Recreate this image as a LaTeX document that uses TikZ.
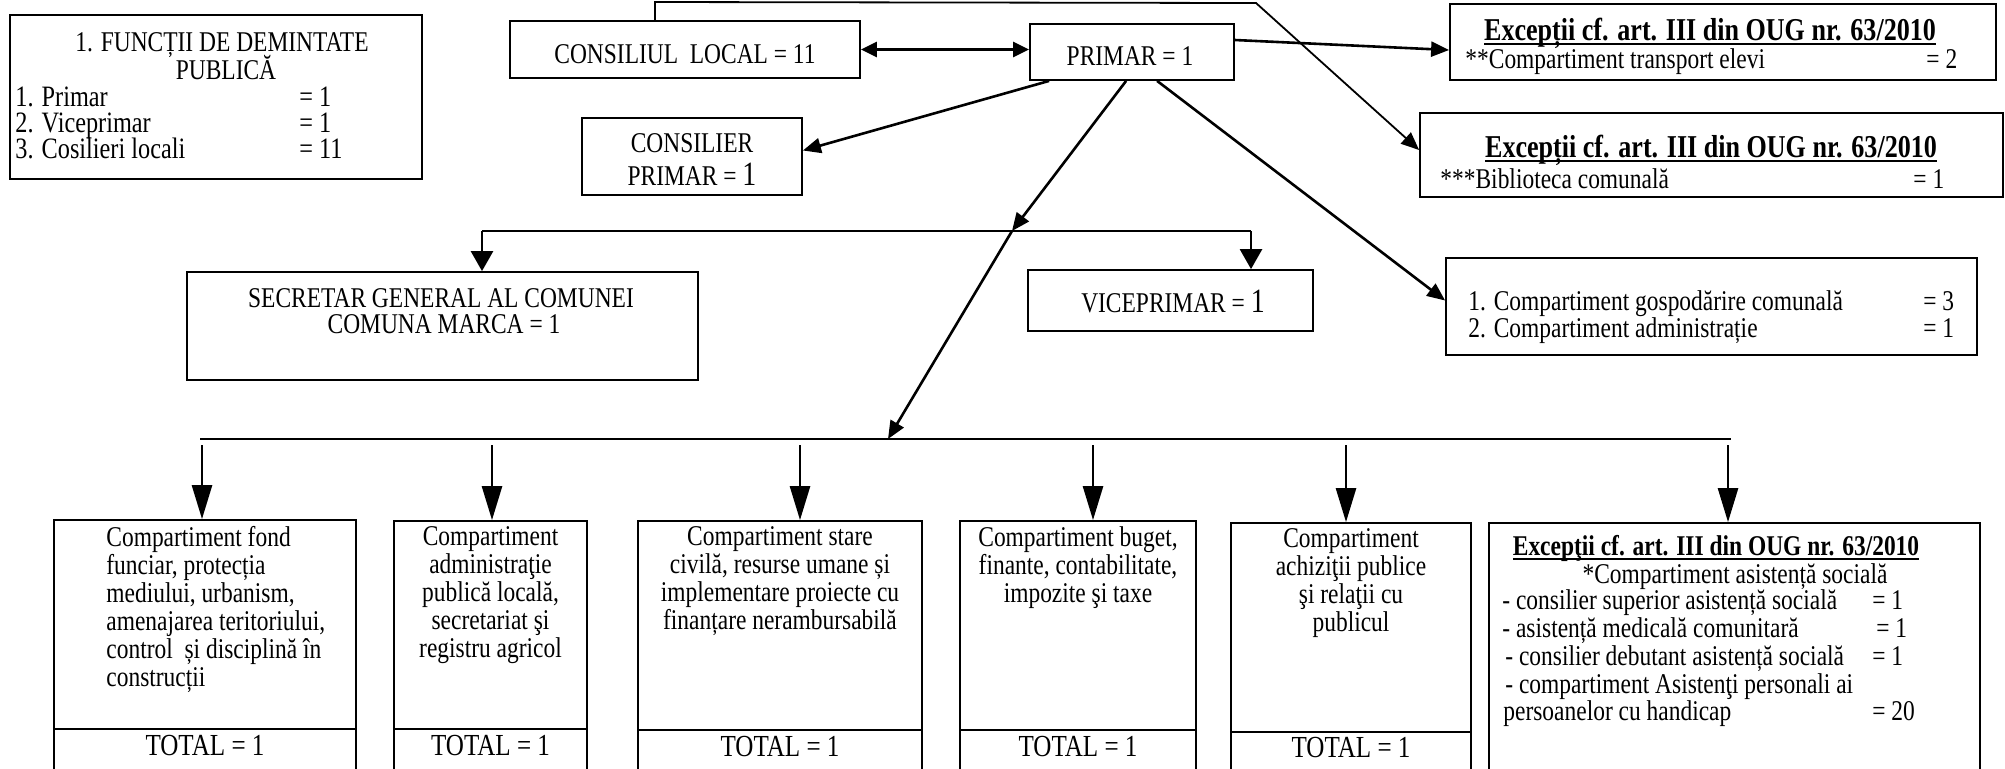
\documentclass[tikz,border=0pt]{standalone}
\usepackage{fontspec}
\setmainfont{Liberation Serif}[FakeStretch=0.82]
\usetikzlibrary{arrows.meta,calc,fit}
\newcommand\myul[1]{\setbox0\hbox{#1}\rlap{\rule[-2.5pt]{\wd0}{0.9pt}}\box0}
\begin{document}
\begin{tikzpicture}[x=0.5pt,y=-0.5pt,
  bx/.style={draw, line width=0.9pt, inner sep=0pt},
  txt/.style={inner sep=0pt, font=\fontsize{14.3}{14}\selectfont},
  row/.style={inner sep=0pt, anchor=base west, font=\fontsize{14.8}{14}\selectfont},
  ttl/.style={inner sep=0pt, font=\fontsize{15.9}{16}\selectfont\bfseries},
  tot/.style={inner sep=0pt, anchor=base, font=\fontsize{15.3}{15}\selectfont},
  conn/.style={line width=1.3pt},
  thin/.style={line width=0.9pt},
  sarr/.style={conn, -{Triangle[length=9pt,width=7.5pt]}},
  marr/.style={conn, -{Triangle[length=10pt,width=11pt]}},
  barr/.style={conn, -{Triangle[length=17pt,width=10pt]}},
  darr/.style={conn, {Triangle[length=8pt,width=7.5pt]}-{Triangle[length=8pt,width=7.5pt]}}
]
\path[use as bounding box, fill=white] (0,0) rectangle (2005,768);
\clip (0,0) rectangle (2005,768);

% ---------- boxes ----------
\node[bx, fit={(10,15) (422,179)}] (fa) {};
\node[bx, fit={(510,21) (860,78)}] (cl) {};
\node[bx, fit={(1030,24) (1234,80)}] (pr) {};
\node[bx, fit={(1450,4) (1996,80)}] (ex1) {};
\node[bx, fit={(1420,113) (2003,197)}] (ex2) {};
\node[bx, fit={(582,118) (802,195)}] (cp) {};
\node[bx, fit={(187,272) (698,380)}] (sec) {};
\node[bx, fit={(1028,270) (1313,331)}] (vp) {};
\node[bx, fit={(1446,258) (1977,355)}] (g) {};
\node[bx, fit={(54,520) (356,800)}] (b1) {};
\node[bx, fit={(394,521) (587,800)}] (b2) {};
\node[bx, fit={(638,521) (922,800)}] (b3) {};
\node[bx, fit={(960,521) (1196,800)}] (b4) {};
\node[bx, fit={(1231,523) (1471,800)}] (b5) {};
\node[bx, fit={(1489,523) (1980,800)}] (b6) {};

% dividers above TOTAL
\draw[thin] (b1.west |- 0,729) -- (b1.east |- 0,729);
\draw[thin] (b2.west |- 0,729) -- (b2.east |- 0,729);
\draw[thin] (b3.west |- 0,730) -- (b3.east |- 0,730);
\draw[thin] (b4.west |- 0,730) -- (b4.east |- 0,730);
\draw[thin] (b5.west |- 0,732) -- (b5.east |- 0,732);

% ---------- texts ----------
\node[txt, anchor=base] (fa1) at (222,51) {1. FUNCȚII DE DEMINTATE};
\node[txt, anchor=base] (fa2) at (226,79) {PUBLICĂ};
\node[row] (fr1) at (15,106) {1. Primar};
\node[row] (fr2) at (15,132) {2. Viceprimar};
\node[row] (fr3) at (15,158) {3. Cosilieri locali};
\node[row] (fv1) at (299,106) {= 1};
\node[row] (fv2) at (299,132) {= 1};
\node[row] (fv3) at (299,158) {= 11};

\node[txt, anchor=base] (clt) at (685,63) {CONSILIUL\ \ LOCAL = 11};
\node[txt, anchor=base] (prt) at (1130,65) {PRIMAR = 1};

\node[ttl, anchor=base] (ex1t) at (1710,40) {\myul{Excepții cf. art. III din OUG nr. 63/2010}};
\node[txt, anchor=base west] (ex1a) at (1465,68) {**Compartiment transport elevi};
\node[txt, anchor=base west] (ex1v) at (1926,68) {= 2};

\node[ttl, anchor=base] (ex2t) at (1711,157) {\myul{Excepții cf. art. III din OUG nr. 63/2010}};
\node[txt, anchor=base west] (ex2a) at (1440,188) {***Biblioteca comunală};
\node[txt, anchor=base west] (ex2v) at (1913,188) {= 1};

\node[txt, anchor=base] (cp1) at (692,152) {CONSILIER};
\node[txt, anchor=base] (cp2) at (692,185) {PRIMAR = {\fontsize{17}{17}\selectfont 1}};

\node[txt, anchor=base] (sec1) at (441,307) {SECRETAR GENERAL AL COMUNEI};
\node[txt, anchor=base] (sec2) at (444,333) {COMUNA MARCA = 1};

\node[txt, anchor=base] (vpt) at (1173,312) {VICEPRIMAR = {\fontsize{17}{17}\selectfont 1}};

\node[txt, anchor=base west] (g1) at (1468,310) {1. Compartiment gospodărire comunală};
\node[txt, anchor=base west] (g1v) at (1923,310) {= 3};
\node[txt, anchor=base west] (g2) at (1468,337) {2. Compartiment administrație};
\node[txt, anchor=base west] (g2v) at (1923,337) {= 1};

\node[txt, anchor=north west, align=left] (b1t) at (106,526)
  {Compartiment fond\\funciar, protecția\\mediului, urbanism,\\amenajarea teritoriului,\\control\ \ și disciplină în\\construcții};
\node[txt, anchor=north, align=center] (b2t) at (490.5,526)
  {Compartiment\\administraţie\\publică locală,\\secretariat şi\\registru agricol};
\node[txt, anchor=north, align=center] (b3t) at (780,526)
  {Compartiment stare\\civilă, resurse umane și\\implementare proiecte cu\\finanțare nerambursabilă};
\node[txt, anchor=north, align=center] (b4t) at (1078,526)
  {Compartiment buget,\\finante, contabilitate,\\impozite şi taxe};
\node[txt, anchor=north, align=center] (b5t) at (1351,528)
  {Compartiment\\achiziţii publice\\şi relaţii cu\\publicul};

\node[ttl, anchor=base, font=\fontsize{14.3}{14}\selectfont\bfseries] (b6t) at (1716,555) {\myul{Excepţii cf. art. III din OUG nr. 63/2010}};
\node[txt, anchor=base] (b6s) at (1735,583) {*Compartiment asistență socială};
\node[txt, anchor=base west] (b6r1) at (1502,609) {- consilier superior asistență socială};
\node[txt, anchor=base west] (b6v1) at (1872,609) {= 1};
\node[txt, anchor=base west] (b6r2) at (1502,637) {- asistență medicală comunitară};
\node[txt, anchor=base west] (b6v2) at (1876,637) {= 1};
\node[txt, anchor=base west] (b6r3) at (1505,665) {- consilier debutant asistență socială};
\node[txt, anchor=base west] (b6v3) at (1872,665) {= 1};
\node[txt, anchor=base west] (b6r4) at (1505,693) {- compartiment Asistenţi personali ai};
\node[txt, anchor=base west] (b6r5) at (1503,720) {persoanelor cu handicap};
\node[txt, anchor=base west] (b6v5) at (1872,720) {= 20};

\node[tot] (t1) at (205,755) {TOTAL = 1};
\node[tot] (t2) at (490.5,755) {TOTAL = 1};
\node[tot] (t3) at (780,756) {TOTAL = 1};
\node[tot] (t4) at (1078,756) {TOTAL = 1};
\node[tot] (t5) at (1351,757) {TOTAL = 1};

% ---------- connectors ----------
\draw[darr] (cl.east) -- (pr.west |- cl.east);

\coordinate (lp1) at (655,2);
\coordinate (lp2) at (1256,3);
\draw[thin, -{Triangle[length=9pt,width=7.5pt]}] (cl.north -| lp1) -- (lp1) -- (lp2) -- ($(ex2.west)+(0,-5)$);

\draw[sarr] ($(pr.east)+(0,-12)$) -- ($(ex1.west)+(0,8)$);
\draw[sarr] ($(pr.south west)+(20,0)$) -- ($(cp.east)+(0,-6)$);

\coordinate (ubl) at (482,231);
\coordinate (ubr) at (1251,231);
\coordinate (ubm) at (1012,231);
\draw[conn] (ubl) -- (ubr);
\draw[marr] (ubl) -- (sec.north -| ubl);
\draw[marr] (ubr) -- (vp.north -| ubr);
\draw[sarr] ($(pr.south west)+(97,0)$) -- (ubm);

\draw[sarr] ($(pr.south west)+(128,0)$) -- ($(g.west)+(0,-6)$);

\coordinate (lbl) at (200,439);
\coordinate (lbr) at (1731,439);
\coordinate (lbm) at (888,439);
\draw[conn] (lbl) -- (lbr);
\draw[sarr] (ubm) -- (lbm);

\coordinate (d1) at (202,445);
\coordinate (d2) at (492,445);
\coordinate (d3) at (800,445);
\coordinate (d4) at (1093,445);
\coordinate (d5) at (1346,445);
\coordinate (d6) at (1728,445);
\draw[barr] (d1) -- (b1.north -| d1);
\draw[barr] (d2) -- (b2.north -| d2);
\draw[barr] (d3) -- (b3.north -| d3);
\draw[barr] (d4) -- (b4.north -| d4);
\draw[barr] (d5) -- (b5.north -| d5);
\draw[barr] (d6) -- (b6.north -| d6);
\end{tikzpicture}
\end{document}
